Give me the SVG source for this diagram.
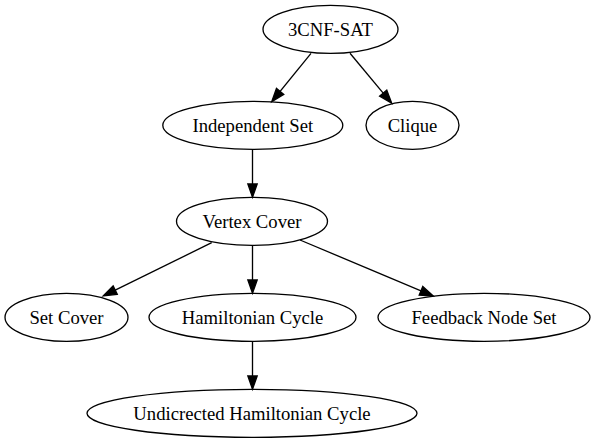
<svg xmlns="http://www.w3.org/2000/svg" width="595" height="443" viewBox="0 0 595 443">
<style>
.n ellipse{fill:none;stroke:#000;stroke-width:1.33}
.n text{font-family:"Liberation Serif","Times New Roman",serif;font-size:18.67px;text-anchor:middle;fill:#000}
.e path{fill:none;stroke:#000;stroke-width:1.33;marker-end:url(#ah)}
</style>
<defs>
<marker id="ah" markerUnits="userSpaceOnUse" markerWidth="15" markerHeight="11" refX="0" refY="4.67" orient="auto" overflow="visible">
<path d="M0,0 L13.3,4.67 L0,9.33 Z" fill="#000" stroke="#000" stroke-width="1.33"/>
</marker>
</defs>
<rect width="595" height="443" fill="#fff"/>
<g id="edges" class="e">
<path d="M311,53.3 L280.1,91.4"/>
<path d="M350,53.3 L383.2,93.1"/>
<path d="M252.5,149.3 L252.5,184"/>
<path d="M211.7,242.7 L115.2,290.1"/>
<path d="M252.5,245.3 L252.5,280"/>
<path d="M300,240 L421,290.8"/>
<path d="M252.5,341.3 L252.5,376"/>
</g>
<g id="n-3cnf" class="n"><ellipse cx="330.5" cy="29.3" rx="67.5" ry="24"/><text x="330.5" y="35.5">3CNF-SAT</text></g>
<g id="n-indep" class="n"><ellipse cx="252.8" cy="125.3" rx="90" ry="24"/><text x="252.8" y="131.5">Independent Set</text></g>
<g id="n-clique" class="n"><ellipse cx="412.5" cy="125.3" rx="46.5" ry="24"/><text x="412.5" y="131.5">Clique</text></g>
<g id="n-vc" class="n"><ellipse cx="252" cy="221.3" rx="75.5" ry="24"/><text x="252" y="227.5">Vertex Cover</text></g>
<g id="n-sc" class="n"><ellipse cx="66.5" cy="317.3" rx="61.5" ry="24"/><text x="66.5" y="323.5">Set Cover</text></g>
<g id="n-hc" class="n"><ellipse cx="252.5" cy="317.3" rx="103.5" ry="24"/><text x="252.5" y="323.5">Hamiltonian Cycle</text></g>
<g id="n-fns" class="n"><ellipse cx="484" cy="317.3" rx="106" ry="24"/><text x="484" y="323.5">Feedback Node Set</text></g>
<g id="n-uhc" class="n"><ellipse cx="252" cy="413.3" rx="165" ry="24"/><text x="252" y="419.5">Undicrected Hamiltonian Cycle</text></g>
</svg>
